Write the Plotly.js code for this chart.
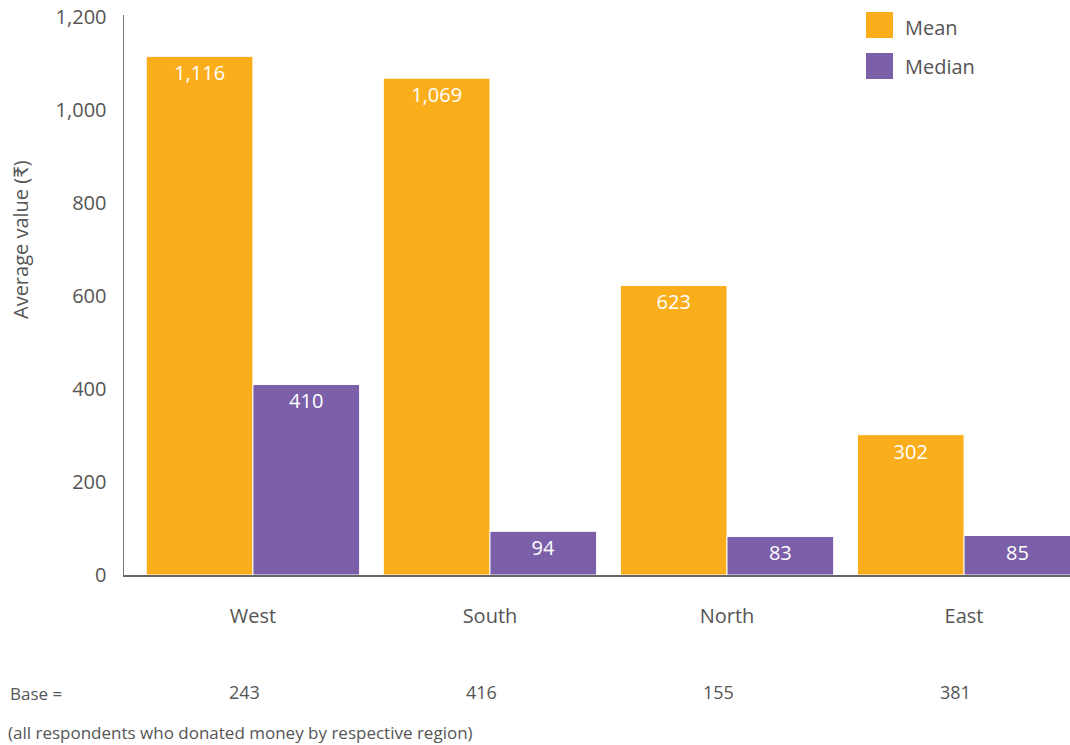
<!DOCTYPE html>
<html><head><meta charset="utf-8">
<script src="https://cdn.plot.ly/plotly-3.0.1.min.js"></script>
<style>body{margin:0;background:#fff}#c{width:1070px;height:745px}</style>
</head><body><div id="c"></div>
<script>
const regions = ["West", "South", "North", "East"];
const meanValues = [1116, 1069, 623, 302];
const medianValues = [410, 94, 83, 85];
const baseCounts = [243, 416, 155, 381];
const seriesNames = ["Mean", "Median"];
const colors = ["#FBAE1B", "#7B5FA8"];
const FONT = "Open Sans, Lato, sans-serif";
const GREY = "#555555";

const fmt = v => v.toLocaleString("en-US");

const traces = [meanValues, medianValues].map((vals, i) => ({
  type: "bar", name: seriesNames[i], x: regions, y: vals,
  marker: {color: colors[i], line: {color: "#ffffff", width: 1}},
  text: vals.map(fmt), textposition: "inside", insidetextanchor: "end",
  textangle: 0, constraintext: "none",
  textfont: {family: FONT, size: 20, color: "#ffffff"},
  hoverinfo: "skip", showlegend: false, cliponaxis: false
}));

const annotations = [];
const shapes = [];
// custom legend
seriesNames.forEach((n, i) => {
  shapes.push({type: "rect", xref: "paper", yref: "paper",
    x0: (866 - 124) / 946, x1: (893 - 124) / 946,
    y0: (575 - (38 + i * 41)) / 560, y1: (575 - (12 + i * 41)) / 560,
    fillcolor: colors[i], line: {width: 0}});
  annotations.push({text: n, xref: "paper", yref: "paper",
    x: (903 - 124) / 946, y: (575 - (27 + i * 39)) / 560,
    xanchor: "left", yanchor: "middle", showarrow: false,
    font: {family: FONT, size: 20, color: GREY}});
});
// base row
annotations.push({text: "Base =", xref: "paper", yref: "paper",
  x: (8 - 124) / 946, y: (575 - 693) / 560, xanchor: "left", yanchor: "middle",
  showarrow: false, font: {family: FONT, size: 17, color: GREY}});
baseCounts.forEach((b, i) => {
  annotations.push({text: String(b), xref: "x", yref: "paper", x: i - 0.035,
    y: (575 - 692) / 560, xanchor: "center", yanchor: "middle", showarrow: false,
    font: {family: FONT, size: 18, color: GREY}});
});
annotations.push({text: "(all respondents who donated money by respective region)",
  xref: "paper", yref: "paper", x: (6 - 124) / 946, y: (575 - 733) / 560,
  xanchor: "left", yanchor: "middle", showarrow: false,
  font: {family: FONT, size: 17, color: GREY}});
// y axis title
annotations.push({text: "Average value (₹)", xref: "paper", yref: "paper",
  x: (20 - 124) / 946, y: (575 - 240) / 560, textangle: -90,
  xanchor: "center", yanchor: "middle", showarrow: false,
  font: {family: FONT, size: 20, color: GREY}});

const layout = {
  width: 1070, height: 745,
  margin: {l: 124, r: 0, t: 15, b: 170},
  paper_bgcolor: "#fff", plot_bgcolor: "#fff",
  barmode: "group", bargap: 0.1, bargroupgap: 0,
  font: {family: FONT, color: GREY},
  xaxis: {range: [-0.544, 3.447], showgrid: false, zeroline: false,
    showline: true, linecolor: "#666", linewidth: 2, ticks: "",
    ticklabelstandoff: 22, tickfont: {family: FONT, size: 20, color: GREY}},
  yaxis: {range: [0, 1205], tickvals: [0, 200, 400, 600, 800, 1000, 1200],
    ticktext: ["0", "200", "400", "600", "800", "1,000", "1,200"],
    showgrid: false, zeroline: false, showline: true, linecolor: "#777",
    linewidth: 1.5, ticks: "", ticklabelstandoff: 12,
    tickfont: {family: FONT, size: 20, color: GREY}},
  showlegend: false, annotations, shapes
};
Plotly.newPlot("c", traces, layout, {displayModeBar: false, staticPlot: true});
</script></body></html>
